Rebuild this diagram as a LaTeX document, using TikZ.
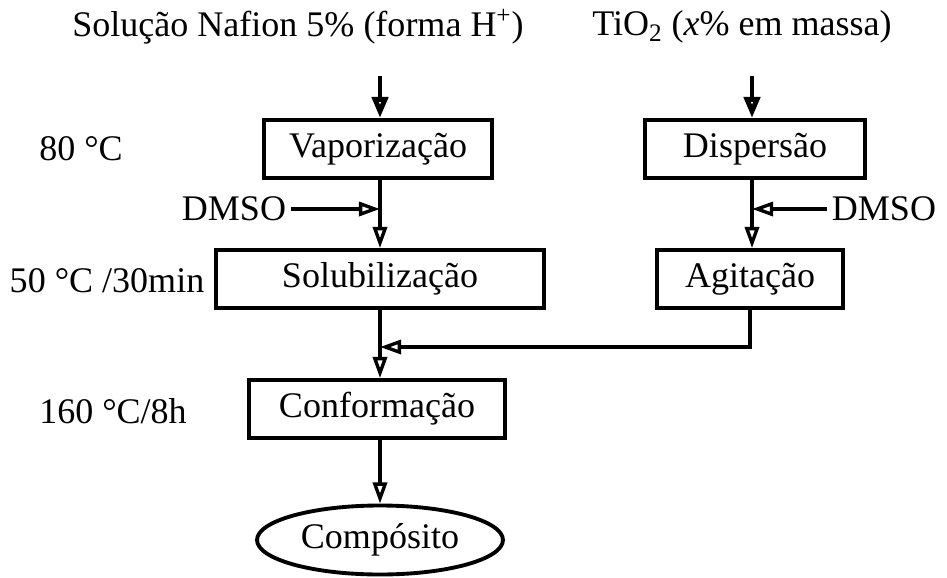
\documentclass[tikz,border=0pt]{standalone}
\usepackage{fontspec}
\setmainfont{Liberation Serif}
\usetikzlibrary{shapes,shapes.geometric,arrows.meta,calc,positioning}
\tikzset{etapa/.style={draw, rectangle, line width=2.2pt, inner sep=0pt, minimum height=1.16cm}}
\tikzstyle{rot}=[inner sep=2pt]
\tikzstyle{fim}=[draw, ellipse, line width=2.2pt, inner sep=0pt, minimum width=4.92cm, minimum height=1.38cm]

\begin{document}
\begin{tikzpicture}[x=0.02cm, y=-0.02cm, line width=1.9pt,
  >={Triangle[open, length=12pt, width=8pt]},
  font=\fontsize{20.5}{24}\selectfont]
\useasboundingbox (0,0) rectangle (947,578);
% entradas
\node[rot] (nafion) at (298,27) {Solução Nafion 5\% (forma H\textsuperscript{+})};
\node[rot] (tio) at (742,27) {TiO\textsubscript{2} (\textit{x}\% em massa)};
\coordinate (topA) at (380,76);
\coordinate (topB) at (752,76);
% etapas
\node[etapa, minimum width=4.56cm] (vapor) at (378,149) {Vaporização};
\node[etapa, minimum width=6.56cm] (solub) at (380,279) {Solubilização};
\node[etapa, minimum width=5.12cm] (conf) at (377,409) {Conformação};
\node[fim] (comp) at (380,540) {Compósito};
\node[etapa, minimum width=4.4cm] (disp) at (755,149) {Dispersão};
\node[etapa, minimum width=3.72cm] (agit) at (750,279) {Agitação};
% condicoes
\node[rot] (t80) at (81,149) {80 °C};
\node[rot] (t50) at (107,281) {50 °C /30min};
\node[rot] (t160) at (113,411) {160 °C/8h};
\node[rot] (dmsoA) at (234,209) {DMSO};
\node[rot] (dmsoB) at (884,209) {DMSO};
\coordinate (junta) at (380,347);
% ligacoes
\draw[->, line width=2.8pt, >={Triangle[open, length=12pt, width=9pt]}] (topA) -- (topA |- vapor.north);
\draw[->, line width=2.8pt, >={Triangle[open, length=12pt, width=9pt]}] (topB) -- (topB |- disp.north);
\path[->] (topA |- vapor.south) edge (topA |- solub.north)
          (topB |- disp.south) edge (topB |- agit.north)
          (dmsoA) edge (dmsoA -| topA)
          (dmsoB) edge (dmsoB -| topB)
          (solub) edge [-] (junta)
          (junta) edge (junta |- conf.north)
          (junta |- conf.south) edge (comp);
\draw[->] (agit.south) |- (junta);
\end{tikzpicture}
\end{document}
